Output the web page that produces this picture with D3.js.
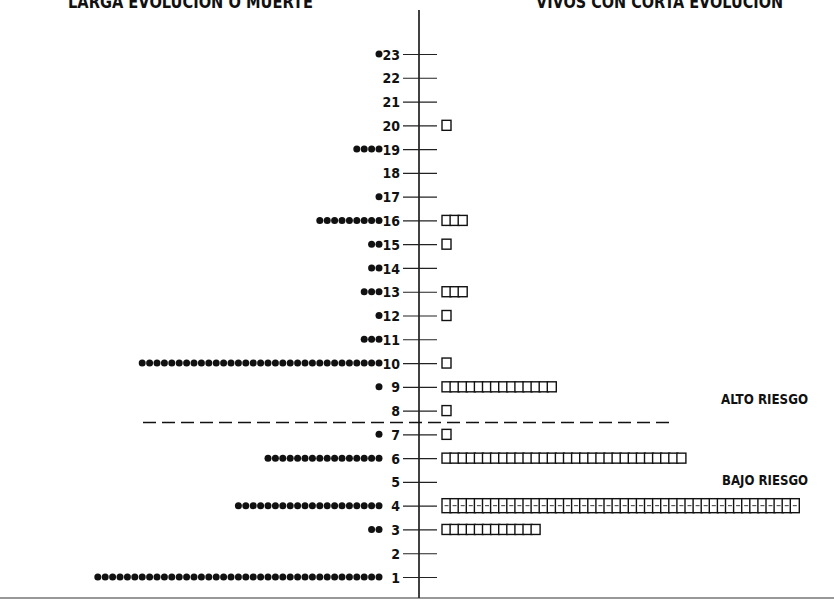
<!DOCTYPE html>
<html>
<head>
<meta charset="utf-8">
<script src="https://cdn.jsdelivr.net/npm/d3@7"></script>
<style>
  body { margin: 0; background: #fff; }
  text { font-family: "Liberation Sans Narrow", "DejaVu Sans Condensed", "Arial Narrow", sans-serif; font-weight: bold; fill: #111; }
</style>
</head>
<body>
<div id="chart"></div>
<script>
// scores on the vertical axis
const scores = d3.range(1, 24);
// left: larga evolucion o muerte (filled dots), one value per score
const muerte = [39, 0, 2, 20, 0, 16, 1, 0, 1, 33, 3, 1, 3, 2, 2, 9, 1, 0, 4, 0, 0, 0, 1];
// right: vivos con corta evolucion (open squares)
const vivos = [0, 0, 12, 44, 0, 30, 1, 1, 14, 1, 0, 1, 3, 0, 1, 3, 0, 0, 0, 1, 0, 0, 0];
const titles = ['LARGA EVOLUCION O MUERTE', 'VIVOS CON CORTA EVOLUCION'];
const riskLabels = ['ALTO RIESGO', 'BAJO RIESGO'];
const riskCut = 7.5;

const width = 834;
const height = 601;
const axisX = 419;

const svg = d3.select('#chart')
    .append('svg')
    .attr('width', width)
    .attr('height', height);

const y = d3.scaleLinear()
    .domain([1, 23])
    .range([577, 54]);

// dot count -> x position, growing leftwards from the axis labels
const xDots = d3.scaleLinear()
    .domain([0, 40])
    .range([379, 379 - 40 * 7.4]);

// square count -> x position, growing rightwards
const xSquares = d3.scaleLinear()
    .domain([0, 50])
    .range([442, 442 + 50 * 8.1]);

// axis line and bottom baseline
svg.append('line')
    .attr('x1', axisX).attr('x2', axisX)
    .attr('y1', 10).attr('y2', 598)
    .attr('stroke', '#111').attr('stroke-width', 1.6);
svg.append('line')
    .attr('x1', 0).attr('x2', width)
    .attr('y1', 598).attr('y2', 598)
    .attr('stroke', '#333').attr('stroke-width', 1.2);

const axis = svg.append('g')
    .attr('transform', `translate(${axisX},0)`)
    .call(d3.axisLeft(y).tickValues(scores).tickFormat(d3.format('d')).tickSizeOuter(0));
axis.select('.domain').remove();
axis.selectAll('.tick line')
    .attr('x1', -16).attr('x2', 18)
    .attr('stroke', '#222').attr('stroke-width', 1.2);
axis.selectAll('.tick text')
    .attr('x', -19)
    .attr('dy', '0.36em')
    .style('font-size', '14px')
    .style('font-family', '"Liberation Sans Narrow", "DejaVu Sans Condensed", sans-serif')
    .style('font-weight', 'bold')
    .attr('fill', '#111');

// filled dots
const dotData = [];
scores.forEach((s, i) => {
    for (let k = 0; k < muerte[i]; k += 1) dotData.push({ score: s, k });
});
svg.append('g').selectAll('circle')
    .data(dotData)
    .join('circle')
    .attr('cx', (d) => xDots(d.k))
    .attr('cy', (d) => y(d.score))
    .attr('r', 3.5)
    .attr('fill', '#111');

// open squares
const sqData = [];
scores.forEach((s, i) => {
    for (let k = 0; k < vivos[i]; k += 1) sqData.push({ score: s, k });
});
const sqH = (d) => (d.score === 4 ? 14 : 10);
svg.append('g').selectAll('rect')
    .data(sqData)
    .join('rect')
    .attr('x', (d) => xSquares(d.k))
    .attr('y', (d) => y(d.score) - sqH(d) / 2)
    .attr('width', 9)
    .attr('height', sqH)
    .attr('fill', '#fff')
    .attr('stroke', '#111')
    .attr('stroke-width', 1.4);
// small middle marks in the tall row
svg.append('g').selectAll('line')
    .data(sqData.filter((d) => d.score === 4))
    .join('line')
    .attr('x1', (d) => xSquares(d.k) + 2.5)
    .attr('x2', (d) => xSquares(d.k) + 6.5)
    .attr('y1', (d) => y(d.score))
    .attr('y2', (d) => y(d.score))
    .attr('stroke', '#333')
    .attr('stroke-width', 1);

// risk separator
svg.append('line')
    .attr('x1', 143).attr('x2', 675)
    .attr('y1', y(riskCut)).attr('y2', y(riskCut))
    .attr('stroke', '#111').attr('stroke-width', 1.4)
    .attr('stroke-dasharray', '13 6');

svg.append('text')
    .attr('x', 808).attr('y', y(8.5) + 5)
    .attr('text-anchor', 'end')
    .attr('textLength', 87).attr('lengthAdjust', 'spacingAndGlyphs')
    .style('font-size', '14px')
    .text(riskLabels[0]);
svg.append('text')
    .attr('x', 808).attr('y', y(5.1) + 5)
    .attr('text-anchor', 'end')
    .attr('textLength', 86).attr('lengthAdjust', 'spacingAndGlyphs')
    .style('font-size', '14px')
    .text(riskLabels[1]);

// titles, clipped at the top edge as in the original scan
svg.append('text')
    .attr('x', 68).attr('y', 8)
    .attr('textLength', 245).attr('lengthAdjust', 'spacingAndGlyphs')
    .style('font-size', '17px')
    .text(titles[0]);
svg.append('text')
    .attr('x', 536).attr('y', 8)
    .attr('textLength', 247).attr('lengthAdjust', 'spacingAndGlyphs')
    .style('font-size', '17px')
    .text(titles[1]);
</script>
</body>
</html>
